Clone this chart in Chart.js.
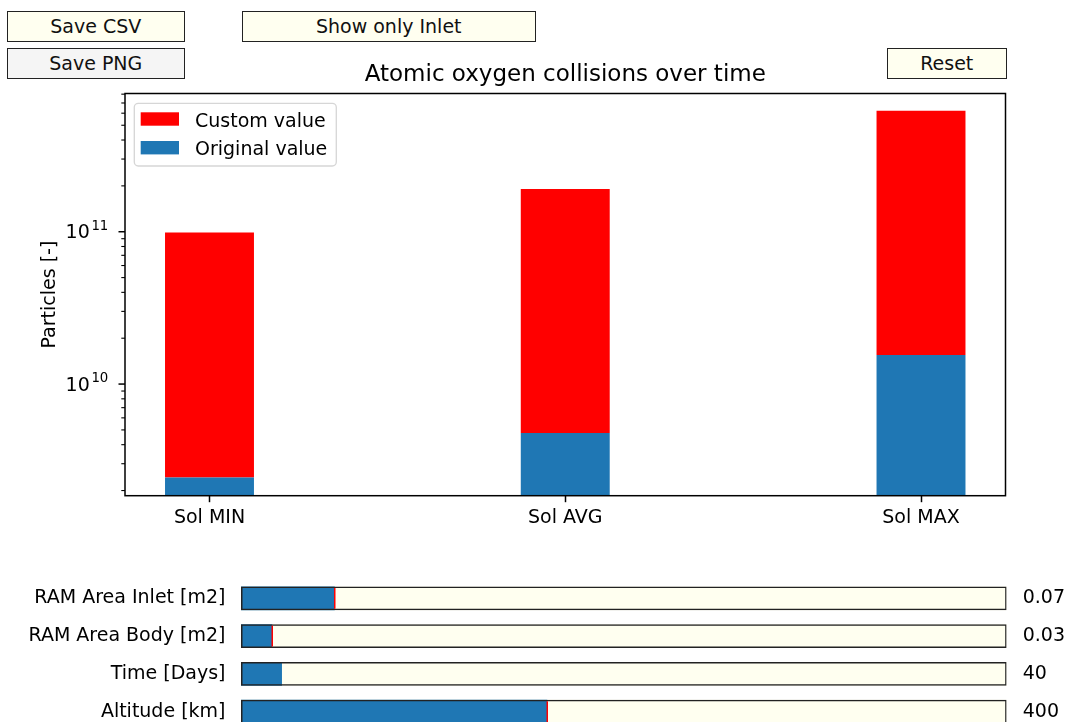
<!DOCTYPE html>
<html>
<head>
<meta charset="utf-8">
<title>Atomic oxygen collisions over time</title>
<script src="https://cdn.jsdelivr.net/npm/chart.js@4.4.1/dist/chart.umd.min.js"></script>
<style>
  html, body { margin: 0; padding: 0; width: 1067px; height: 722px; overflow: hidden; background: #ffffff; font-family: "DejaVu Sans", sans-serif; }
  .btn { position: absolute; box-sizing: border-box; border: 1.5px solid #222; background: #fffff0; font-size: 19px; color: #111;
         display: flex; align-items: center; justify-content: center; padding-bottom: 1px; }
  canvas { position: absolute; left: 0; }
</style>
</head>
<body>
<div class="btn" style="left:7px;top:10.5px;width:177.5px;height:31.5px">Save CSV</div>
<div class="btn" style="left:7px;top:47.5px;width:177.5px;height:31.5px;background:#f5f5f5">Save PNG</div>
<div class="btn" style="left:241.5px;top:10.5px;width:294.5px;height:31.5px">Show only Inlet</div>
<div class="btn" style="left:887px;top:47.5px;width:119.5px;height:31.5px">Reset</div>

<canvas id="main" width="1067" height="545" style="top:0"></canvas>
<canvas id="sliders" width="1067" height="200" style="top:560px"></canvas>

<script>
// Bar chart data: particle counts per solar activity level
const categories = ['Sol MIN', 'Sol AVG', 'Sol MAX'];
const customValues = [9.9e10, 1.91e11, 6.23e11];
const originalValues = [2.44e9, 4.77e9, 1.55e10];

// Log axis range and labelled decades
const yRange = [1.85e9, 8.08e11];
const yTickValues = [1e10, 1e11];
const yTickExponents = ['10', '11'];

// Parameter sliders
const sliderLabels = ['RAM Area Inlet [m2]', 'RAM Area Body [m2]', 'Time [Days]', 'Altitude [km]'];
const sliderValues = [0.07, 0.03, 40, 400];
const sliderValueText = ['0.07', '0.03', '40', '400'];
const sliderMin = [0.01, 0.01, 1, 200];
const sliderMax = [0.5, 0.5, 730, 700];
const sliderInit = [0.07, 0.03, null, 400];

const FAMILY = 'DejaVu Sans';
const FS = 19;
const RED = '#ff0000';
const BLUE = '#1f77b4';

// Axis frame, log tick marks with superscript labels, and the in-plot legend
const axesDecor = {
  id: 'axesDecor',
  afterDatasetsDraw(chart) {
    const { ctx, chartArea: ca, scales: { y } } = chart;
    ctx.save();
    ctx.strokeStyle = '#000';
    y.ticks.forEach(t => {
      const py = y.getPixelForValue(t.value);
      const major = yTickValues.includes(t.value);
      ctx.lineWidth = major ? 1.5 : 1.1;
      ctx.beginPath();
      ctx.moveTo(ca.left - (major ? 6.5 : 3.7), py);
      ctx.lineTo(ca.left, py);
      ctx.stroke();
    });

    ctx.fillStyle = '#000';
    ctx.textBaseline = 'alphabetic';
    ctx.textAlign = 'right';
    yTickValues.forEach((v, i) => {
      const py = y.getPixelForValue(v);
      const right = ca.left - 16.7;
      ctx.font = `13.3px "${FAMILY}"`;
      ctx.fillText(yTickExponents[i], right, py - 1.7);
      const ew = ctx.measureText(yTickExponents[i]).width;
      ctx.font = `${FS}px "${FAMILY}"`;
      ctx.fillText('10', right - ew - 1.6, py + 6.7);
    });

    ctx.lineWidth = 1.5;
    ctx.strokeRect(ca.left, ca.top, ca.right - ca.left, ca.bottom - ca.top);

    // legend
    ctx.font = `${FS}px "${FAMILY}"`;
    const ds = chart.data.datasets;
    const tw = Math.max(...ds.map(d => ctx.measureText(d.label).width));
    const lx = ca.left + 9.3, ly = ca.top + 9.8;
    const lw = 60.7 + tw + 9, lh = 62.7;
    ctx.beginPath();
    ctx.roundRect(lx, ly, lw, lh, 4);
    ctx.fillStyle = 'rgba(255,255,255,0.8)';
    ctx.fill();
    ctx.strokeStyle = 'rgba(204,204,204,0.8)';
    ctx.lineWidth = 1.33;
    ctx.stroke();
    ds.forEach((d, i) => {
      ctx.fillStyle = d.backgroundColor;
      ctx.fillRect(lx + 6.4, ly + 9 + i * 28.7, 38.3, 13.4);
      ctx.fillStyle = '#000';
      ctx.textAlign = 'left';
      ctx.fillText(d.label, lx + 60.7, ly + 23.3 + i * 28.7);
    });
    ctx.restore();
  }
};

const barCommon = { grouped: false, barPercentage: 0.25, categoryPercentage: 1, borderWidth: 0 };

// The custom-value bar rises behind the original-value bar; only its part above
// the original value is painted so the two fills never blend at the edges.
new Chart(document.getElementById('main'), {
  type: 'bar',
  data: {
    datasets: [
      { label: 'Custom value', data: categories.map((c, i) => ({ x: i, y: [originalValues[i], customValues[i]] })),
        backgroundColor: RED, order: 1, ...barCommon },
      { label: 'Original value', data: categories.map((c, i) => ({ x: i, y: originalValues[i] })),
        backgroundColor: BLUE, order: 0, ...barCommon }
    ]
  },
  options: {
    responsive: false,
    animation: false,
    devicePixelRatio: 1,
    layout: { padding: { left: 0, right: 61.5, top: 0, bottom: 0 } },
    plugins: {
      legend: { display: false },
      tooltip: { enabled: false },
      title: {
        display: true, fullSize: false,
        text: 'Atomic oxygen collisions over time',
        color: '#000',
        font: { family: FAMILY, size: 23, weight: 'normal' },
        padding: { top: 61.5, bottom: 4.4 }
      }
    },
    scales: {
      x: {
        type: 'linear', min: -0.2375, max: 2.2375, offset: false,
        grid: { drawOnChartArea: false, drawTicks: true, tickLength: 6.5, tickWidth: 1.5, tickColor: '#000', offset: false },
        border: { display: false },
        ticks: { autoSkip: false, maxRotation: 0, padding: 4.1, color: '#000',
                 font: { family: FAMILY, size: FS },
                 callback: v => categories[v] ?? '' },
        afterBuildTicks: s => { s.ticks = categories.map((c, i) => ({ value: i })); },
        afterFit: s => { s.height = 49.3; s.paddingLeft = 0; s.paddingRight = 0; }
      },
      y: {
        type: 'logarithmic', min: yRange[0], max: yRange[1],
        grid: { display: false, drawTicks: false },
        border: { display: false },
        ticks: { display: false },
        title: { display: true, text: 'Particles [-]', color: '#000',
                 font: { family: FAMILY, size: FS }, padding: { top: 38.2, bottom: 0 } },
        afterBuildTicks: s => {
          const out = [];
          const e0 = Math.floor(Math.log10(yRange[0])), e1 = Math.ceil(Math.log10(yRange[1]));
          for (let e = e0; e <= e1; e++) {
            for (let m = 1; m < 10; m++) {
              const v = m * Math.pow(10, e);
              if (v >= yRange[0] && v <= yRange[1]) out.push({ value: v });
            }
          }
          s.ticks = out;
        },
        afterFit: s => { s.width = 125; s.paddingTop = 0; s.paddingBottom = 0; }
      }
    }
  },
  plugins: [axesDecor]
});

// Slider tracks: initial-value marker and current value readout
const sliderDecor = {
  id: 'sliderDecor',
  afterDatasetsDraw(chart) {
    const { ctx, chartArea: ca, scales: { x, y } } = chart;
    const meta = chart.getDatasetMeta(0);
    ctx.save();
    sliderInit.forEach((v, i) => {
      if (v === null) return;
      const px = x.getPixelForValue((v - sliderMin[i]) / (sliderMax[i] - sliderMin[i]));
      const cy = y.getPixelForValue(i);
      const h = meta.data[i].height;
      ctx.strokeStyle = RED;
      ctx.lineWidth = 1.5;
      ctx.beginPath();
      ctx.moveTo(px, cy - h / 2 + 1.5);
      ctx.lineTo(px, cy + h / 2 - 1.5);
      ctx.stroke();
    });
    ctx.fillStyle = '#000';
    ctx.font = `${FS}px "${FAMILY}"`;
    ctx.textAlign = 'left';
    ctx.textBaseline = 'middle';
    sliderValueText.forEach((t, i) => {
      ctx.fillText(t, ca.right + 16, y.getPixelForValue(i));
    });
    ctx.restore();
  }
};

const fractions = sliderValues.map((v, i) => (v - sliderMin[i]) / (sliderMax[i] - sliderMin[i]));
const fullRange = sliderMax.map((v, i) => (v - sliderMin[i]) / (sliderMax[i] - sliderMin[i]));
const sliderBar = { grouped: false, barPercentage: 0.63, categoryPercentage: 1 };

new Chart(document.getElementById('sliders'), {
  type: 'bar',
  data: {
    labels: sliderLabels,
    datasets: [
      { label: 'track', data: fullRange, backgroundColor: '#fffff0', borderWidth: 0, order: 2, ...sliderBar },
      { label: 'value', data: fractions, backgroundColor: BLUE, borderWidth: 0, order: 1, ...sliderBar },
      { label: 'frame', data: fullRange, backgroundColor: 'rgba(0,0,0,0)', borderColor: '#222',
        borderWidth: 1.5, borderSkipped: false, order: 0, ...sliderBar }
    ]
  },
  options: {
    indexAxis: 'y',
    responsive: false,
    animation: false,
    devicePixelRatio: 1,
    layout: { padding: { left: 0, right: 60.3, top: 19.4, bottom: 29.4 } },
    plugins: { legend: { display: false }, tooltip: { enabled: false } },
    scales: {
      x: { type: 'linear', min: 0, max: 1, display: false },
      y: {
        type: 'category',
        grid: { display: false, drawTicks: false },
        border: { display: false },
        ticks: { color: '#000', padding: 15.5, font: { family: FAMILY, size: FS } },
        afterFit: s => { s.width = 241; s.paddingTop = 0; s.paddingBottom = 0; }
      }
    }
  },
  plugins: [sliderDecor]
});
</script>
</body>
</html>
